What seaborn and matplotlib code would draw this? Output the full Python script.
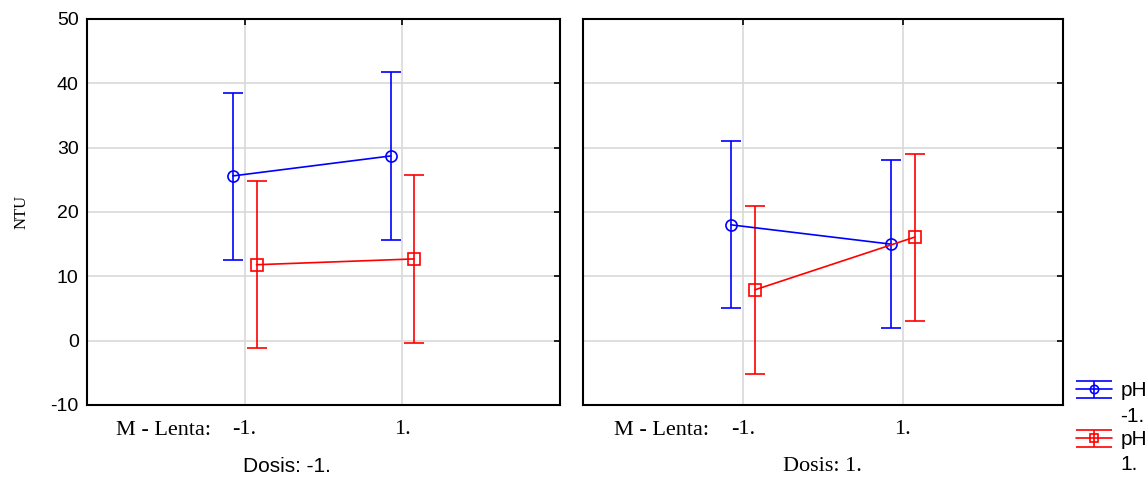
import numpy as np
import matplotlib
matplotlib.use("Agg")
import matplotlib.pyplot as plt
import seaborn as sns
from matplotlib.legend_handler import HandlerErrorbar
from matplotlib.lines import Line2D
from matplotlib.transforms import Affine2D

# data (NTU means and interval bounds)
lenta_levels = ["-1.", "1."]
dosis_levels = ["-1.", "1."]
ph_levels = ["-1.", "1."]

# Dosis -1.
ph_m1_mean_d1 = [25.6, 28.7]
ph_m1_low_d1 = [12.5, 15.7]
ph_m1_high_d1 = [38.5, 41.7]
ph_p1_mean_d1 = [11.8, 12.7]
ph_p1_low_d1 = [-1.2, -0.3]
ph_p1_high_d1 = [24.8, 25.7]

# Dosis 1.
ph_m1_mean_d2 = [18.0, 15.0]
ph_m1_low_d2 = [5.0, 2.0]
ph_m1_high_d2 = [31.0, 28.0]
ph_p1_mean_d2 = [7.9, 16.1]
ph_p1_low_d2 = [-5.2, 3.1]
ph_p1_high_d2 = [20.9, 29.0]

sns.set_theme(style="white")
plt.rcParams["font.family"] = ["Liberation Sans", "DejaVu Sans"]
plt.rcParams["axes.unicode_minus"] = False
for key in ["text.color", "axes.labelcolor", "xtick.color", "ytick.color"]:
    plt.rcParams[key] = "black"


class WideCapHandler(HandlerErrorbar):
    # caps as wide as the handle, and the handle level with the first text line
    def create_artists(self, legend, orig_handle, xdescent, ydescent, width,
                       height, fontsize, trans):
        trans = trans + Affine2D().translate(0, 14)
        artists = super().create_artists(legend, orig_handle, xdescent, ydescent,
                                         width, height, fontsize, trans)
        for a in artists:
            if isinstance(a, Line2D) and a.get_marker() == "_":
                a.set_markersize(width)
            elif isinstance(a, Line2D) and a.get_marker() in ("o", "s"):
                a.set_markersize(6)
        return artists


fig = plt.figure(figsize=(11.48, 4.79), dpi=100)
ax1 = fig.add_axes([0.0758, 0.1545, 0.412, 0.806])
ax2 = fig.add_axes([0.5078, 0.1545, 0.418, 0.806], sharey=ax1)

panels = [
    (ax1, [(ph_m1_mean_d1, ph_m1_low_d1, ph_m1_high_d1),
           (ph_p1_mean_d1, ph_p1_low_d1, ph_p1_high_d1)]),
    (ax2, [(ph_m1_mean_d2, ph_m1_low_d2, ph_m1_high_d2),
           (ph_p1_mean_d2, ph_p1_low_d2, ph_p1_high_d2)]),
]
colors = ["#0000ff", "#ff0000"]
markers = ["o", "s"]
offsets = [-0.075, 0.075]

x = np.arange(len(lenta_levels))
handles = []
for ax, series in panels:
    for (mean, low, high), c, mk, off in zip(series, colors, markers, offsets):
        mean = np.array(mean)
        yerr = [mean - np.array(low), np.array(high) - mean]
        h = ax.errorbar(x + off, mean, yerr=yerr, color=c, marker=mk,
                        markersize=8, markerfacecolor="none", markeredgecolor=c,
                        markeredgewidth=1.2, lw=1.2, elinewidth=1.2,
                        capsize=7, capthick=1.2, zorder=3)
        if ax is ax1:
            handles.append(h)

    ax.set_xlim(-1, 2)
    ax.set_ylim(-10, 50)
    ax.set_yticks(np.arange(-10, 51, 10))
    ax.set_xticks(x)
    ax.set_xticklabels(lenta_levels, family="Liberation Serif", fontsize=16)
    ax.grid(True, color="#d9d9d9", lw=1.2, zorder=0)
    for s in ax.spines.values():
        s.set_color("black")
        s.set_linewidth(1.5)
    ax.tick_params(axis="both", which="both", length=4, width=1.2, color="black",
                   top=True, right=True, direction="in")
    ax.tick_params(axis="x", pad=11)
    ax.tick_params(axis="y", labelsize=14, pad=6)
    ax.text(0.263, -0.067, "M - Lenta:", transform=ax.transAxes,
            ha="right", va="center", family="Liberation Serif", fontsize=16)

ax1.set_ylabel("NTU", family="Liberation Serif", fontsize=12, labelpad=15)
ax2.tick_params(axis="y", labelleft=False)

ax1.text(0.423, -0.16, "Dosis: -1.", transform=ax1.transAxes, ha="center",
         va="center", fontsize=15)
ax2.text(0.5, -0.16, "Dosis: 1.", transform=ax2.transAxes, ha="center",
         va="center", family="Liberation Serif", fontsize=16)

leg = fig.legend(handles, ["pH\n-1.", "pH\n1."], loc="upper left",
                 bbox_to_anchor=(0.937, 0.205), frameon=False, fontsize=15,
                 handlelength=1.75, labelspacing=0.2, handletextpad=0.4,
                 borderaxespad=0.0, borderpad=0.0,
                 handler_map={type(handles[0]): WideCapHandler(yerr_size=0.42)})
for t in leg.get_texts():
    t.set_linespacing(1.45)

fig.savefig("out.png", dpi=100)
